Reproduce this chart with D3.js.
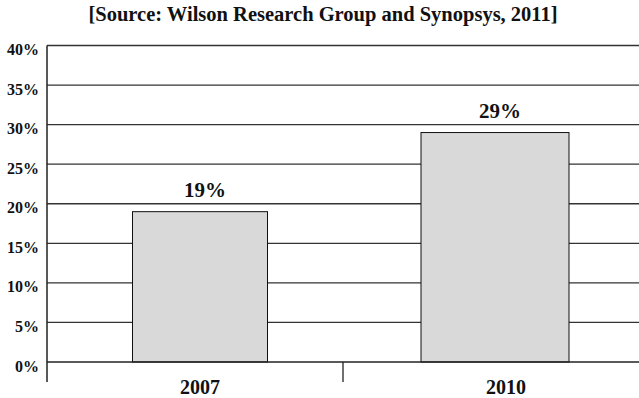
<!DOCTYPE html>
<html><head><meta charset="utf-8">
<script src="https://cdn.jsdelivr.net/npm/d3@7/dist/d3.min.js"></script>
<style>body{margin:0;background:#fff}svg{display:block}</style>
</head><body>
<script>
const categories = ["2007", "2010"];
const values = [19, 29];
const valueLabels = ["19%", "29%"];
const yTicks = [0, 5, 10, 15, 20, 25, 30, 35, 40];
const title = "[Source: Wilson Research Group and Synopsys, 2011]";

const W = 639, H = 398;
const FONT = "'Liberation Serif', 'Times New Roman', Times, serif";
const svg = d3.select("body").append("svg").attr("width", W).attr("height", H)
  .attr("font-family", FONT).attr("font-weight", "bold");
const x = d3.scaleBand().domain(categories).range([47, 639]).paddingInner(0).paddingOuter(0);
const y = d3.scaleLinear().domain([0, 40]).range([362, 45.5]);
const barWidths = [135, 148];
const barShift = [5, 4];
const labelShift = [5, 15];

svg.append("text").attr("x", 323).attr("y", 21).attr("text-anchor", "middle")
  .attr("fill", "#111").style("font-size", "20.5px").text(title);

// gridlines
svg.append("g").selectAll("line").data(yTicks.filter(d => d > 0)).join("line")
  .attr("x1", 47).attr("x2", W).attr("y1", d => y(d)).attr("y2", d => y(d))
  .attr("stroke", "#333").attr("stroke-width", 1.3);

// bars
svg.append("g").selectAll("rect").data(values).join("rect")
  .attr("x", (d, i) => x(categories[i]) + x.bandwidth() / 2 + barShift[i] - barWidths[i] / 2)
  .attr("width", (d, i) => barWidths[i])
  .attr("y", d => y(d)).attr("height", d => y(0) - y(d))
  .attr("fill", "#d9d9d9").attr("stroke", "#111").attr("stroke-width", 1);

// baseline
svg.append("line").attr("x1", 47).attr("x2", W).attr("y1", y(0)).attr("y2", y(0))
  .attr("stroke", "#222").attr("stroke-width", 1.5);
// y axis line
svg.append("line").attr("x1", 47).attr("x2", 47).attr("y1", y(40)).attr("y2", y(0) + 20)
  .attr("stroke", "#222").attr("stroke-width", 1.5);
// category separator tick
svg.append("line").attr("x1", x(categories[1])).attr("x2", x(categories[1]))
  .attr("y1", y(0)).attr("y2", y(0) + 20).attr("stroke", "#222").attr("stroke-width", 1.3);

// y tick labels
svg.append("g").selectAll("text").data(yTicks).join("text")
  .attr("x", 39).attr("y", d => y(d) + 9.5).attr("text-anchor", "end")
  .attr("fill", "#111").style("font-size", "16px").text(d => d + "%");

// category labels
svg.append("g").selectAll("text").data(categories).join("text")
  .attr("x", (d, i) => x(d) + x.bandwidth() / 2 + labelShift[i])
  .attr("y", 394).attr("text-anchor", "middle")
  .attr("fill", "#111").style("font-size", "20px").text(d => d);

// value labels
svg.append("g").selectAll("text").data(values).join("text")
  .attr("x", (d, i) => x(categories[i]) + x.bandwidth() / 2 + barShift[i] + 5)
  .attr("y", d => y(d) - 15).attr("text-anchor", "middle")
  .attr("fill", "#111").style("font-size", "21px").text((d, i) => valueLabels[i]);
</script>
</body></html>
